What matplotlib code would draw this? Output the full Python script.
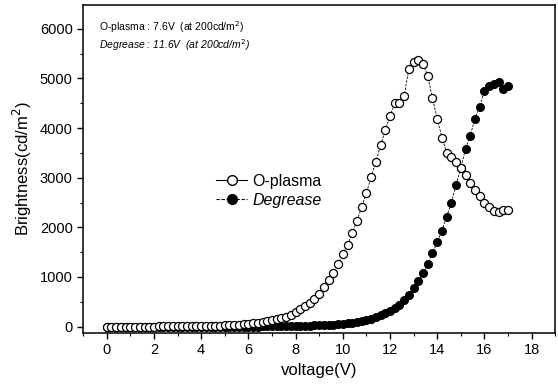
import numpy as np
import matplotlib
matplotlib.use("Agg")
import matplotlib.pyplot as plt
from matplotlib.ticker import MultipleLocator
from matplotlib.lines import Line2D

plt.rcParams['font.family'] = ['Liberation Sans', 'DejaVu Sans']

# voltage steps of 0.2 V from 0 to 17 V
voltage = np.round(np.arange(0, 86) * 0.2, 1)

o_plasma = [0, 0, 0, 0, 0, 0, 0, 0, 0, 0,
            0, 2, 3, 4, 5, 5, 6, 7, 8, 9,
            10, 12, 14, 16, 19, 22, 26, 31, 37, 44,
            52, 62, 74, 88, 105, 124, 145, 170, 200, 240,
            290, 345, 410, 480, 560, 650, 790, 930, 1085, 1270,
            1455, 1645, 1880, 2130, 2410, 2690, 3020, 3320, 3650, 3960,
            4240, 4500, 4500, 4640, 5200, 5330, 5370, 5300, 5050, 4600,
            4190, 3810, 3500, 3420, 3320, 3190, 3050, 2890, 2750, 2630,
            2500, 2410, 2330, 2300, 2340, 2340]

degrease = [0, 0, 0, 0, 0, 0, 0, 0, 0, 0,
            0, 0, 0, 0, 0, 0, 0, 0, 0, 0,
            0, 0, 0, 0, 0, 0, 0, 0, 0, 0,
            0, 0, 0, 2, 3, 4, 5, 6, 8, 10,
            12, 14, 16, 19, 22, 26, 30, 35, 40, 47,
            55, 65, 76, 90, 108, 130, 160, 200, 230, 265,
            310, 370, 440, 535, 640, 775, 910, 1080, 1270, 1480,
            1700, 1930, 2210, 2500, 2850, 3200, 3580, 3850, 4190, 4430,
            4750, 4840, 4890, 4930, 4780, 4840]

fig = plt.figure(figsize=(5.58, 3.89), dpi=100)
ax = fig.add_axes([0.149, 0.144, 0.846, 0.843])

ax.plot(voltage, degrease, color='black', linestyle=(0, (3, 1.5)), linewidth=0.6,
        marker='o', markersize=5.5, markerfacecolor='black', markeredgecolor='black',
        zorder=2)
ax.plot(voltage, o_plasma, color='black', linestyle=(0, (3, 1.5)), linewidth=0.6,
        marker='o', markersize=5.8, markerfacecolor='white', markeredgecolor='black',
        markeredgewidth=0.9, zorder=3)

ax.set_xlim(-1, 19)
ax.set_ylim(-130, 6480)
ax.xaxis.set_major_locator(MultipleLocator(2))
ax.xaxis.set_minor_locator(MultipleLocator(1))
ax.yaxis.set_major_locator(MultipleLocator(1000))
ax.yaxis.set_minor_locator(MultipleLocator(500))
ax.tick_params(which='major', direction='out', length=4, width=1, labelsize=10.5)
ax.tick_params(which='minor', direction='out', length=2, width=0.8)
for s in ax.spines.values():
    s.set_linewidth(1.1)

ax.set_xlabel('voltage(V)', fontsize=12)
ax.set_ylabel('Brightness(cd/m$^2$)', fontsize=12)

h1 = Line2D([], [], color='black', linewidth=0.8, marker='o', markersize=7,
            markerfacecolor='white', markeredgecolor='black')
h2 = Line2D([], [], color='black', linewidth=0.8, linestyle=(0, (3, 1.5)), marker='o',
            markersize=7, markerfacecolor='black', markeredgecolor='black')
leg = ax.legend([h1, h2], ['O-plasma', 'Degrease'],
                loc='upper left', bbox_to_anchor=(0.25, 0.53), frameon=False,
                fontsize=11.5, handlelength=2.0, handletextpad=0.3, labelspacing=0.25)
leg.get_texts()[1].set_style('italic')

ax.text(0.034, 0.933, 'O-plasma : 7.6V  (at 200cd/m$^2$)', transform=ax.transAxes,
        fontsize=7.5, va='center')
ax.text(0.034, 0.878, 'Degrease : 11.6V  (at 200cd/m$^2$)', transform=ax.transAxes,
        fontsize=7.5, va='center', style='italic')

fig.savefig('out.png', dpi=100)
